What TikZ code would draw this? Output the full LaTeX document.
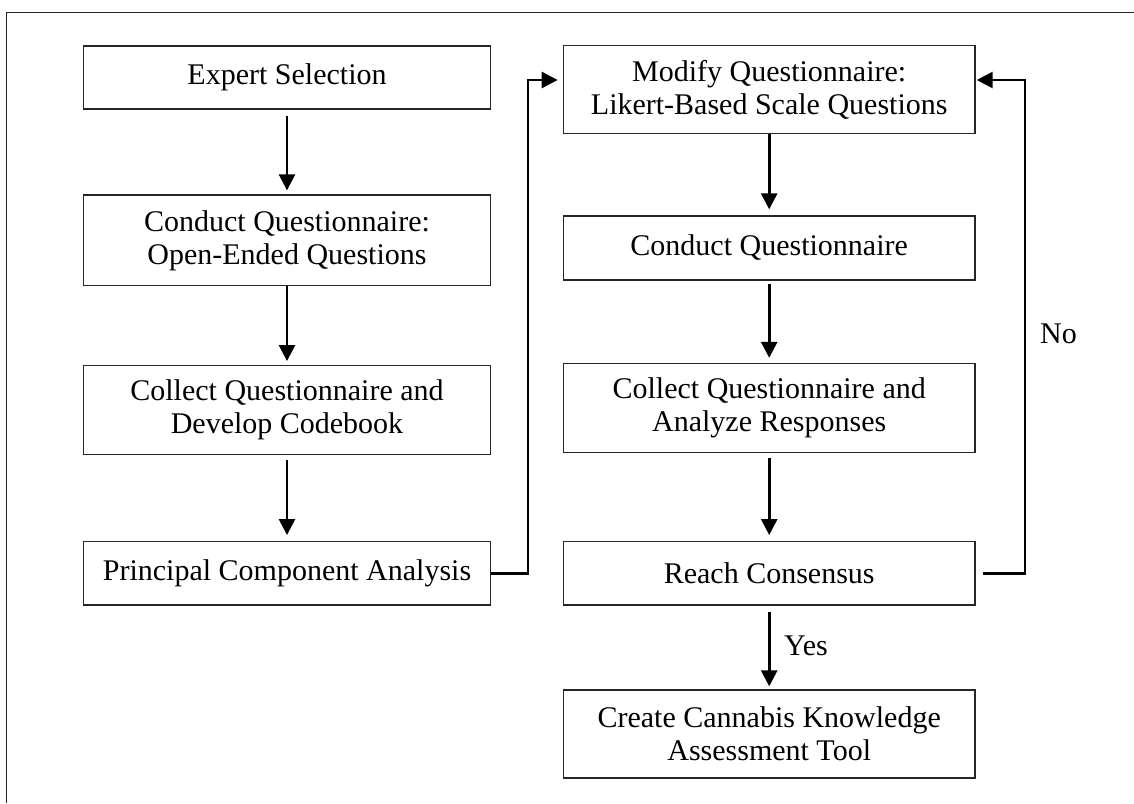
\documentclass[tikz,border=0pt]{standalone}
\usepackage{fontspec}
\setmainfont{Liberation Serif}
\usetikzlibrary{arrows.meta}
\begin{document}
\begin{tikzpicture}[x=1pt,y=-1pt,
  box/.style={draw=black!85, line width=1.3pt, align=center, inner sep=0pt,
    font=\fontsize{30}{33}\selectfont},
  lbox/.style={box, minimum width=407.4pt},
  rbox/.style={box, minimum width=411.7pt},
  arr/.style={line width=2.6pt, -{Triangle[length=16pt,width=16pt]}},
  lbl/.style={inner sep=0pt, font=\fontsize{30}{33}\selectfont}]
\useasboundingbox (0,0) rectangle (1134,803);
\draw[line width=1.4pt, black!85] (1134,12.7) -- (6.5,12.7) -- (6.5,803);

\node[lbox, minimum height=63pt] (expert) at (287,77.5) {Expert Selection};
\node[lbox, minimum height=90.7pt] (conduct1) at (287,240.35) {Conduct Questionnaire:\\Open-Ended Questions};
\node[lbox, minimum height=88.6pt] (collect1) at (287,410) {Collect Questionnaire and\\Develop Codebook};
\node[lbox, minimum height=63.3pt] (pca) at (287,573.35) {Principal Component Analysis};

\node[rbox, minimum height=87.6pt] (modify) at (769.2,89.5) {Modify Questionnaire:\\Likert-Based Scale Questions};
\node[rbox, minimum height=64pt] (conduct2) at (769.2,248) {Conduct Questionnaire};
\node[rbox, minimum height=89pt] (collect2) at (769.2,408) {Collect Questionnaire and\\Analyze Responses};
\node[rbox, minimum height=63.3pt] (rc) at (769.2,573.35) {Reach Consensus};
\node[rbox, minimum height=88pt] (create) at (769.2,734) {Create Cannabis Knowledge\\Assessment Tool};

\draw[arr, shorten <=6pt, shorten >=4pt] (expert) -- (conduct1);
\draw[arr, shorten <=0pt, shorten >=4pt] (conduct1) -- (collect1);
\draw[arr, shorten <=5pt, shorten >=6pt] (collect1) -- (pca);

\draw[arr, shorten <=0pt, shorten >=6pt] (modify) -- (conduct2);
\draw[arr, shorten <=3pt, shorten >=5pt] (conduct2) -- (collect2);
\draw[arr, shorten <=5pt, shorten >=6pt] (collect2) -- (rc);
\draw[arr, shorten <=6pt, shorten >=3pt] (rc) -- (create);

\coordinate (jl) at (528,80);
\coordinate (jr) at (1025,80);
\draw[arr, shorten >=5pt] (pca.east) -| (jl) -- (modify.west |- jl);
\draw[arr, shorten >=1pt] ([xshift=7pt]rc.east) -| (jr) -- (modify.east |- jr);

\node[lbl, anchor=west] (yes) at (784,646) {Yes};
\node[lbl, anchor=west] (no) at (1040,334) {No};
\end{tikzpicture}
\end{document}
